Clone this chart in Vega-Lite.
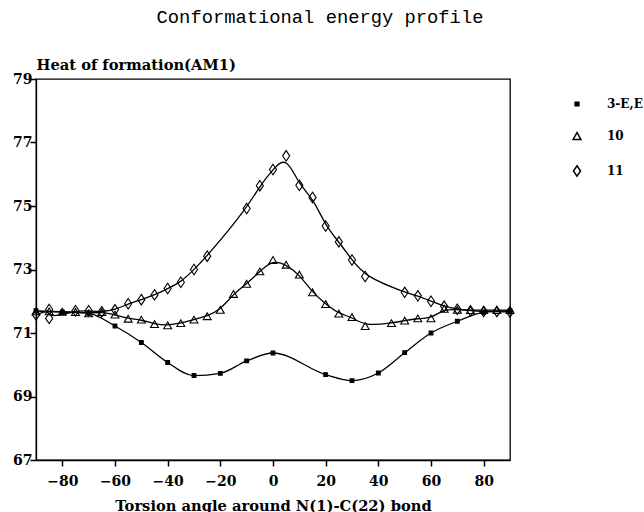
{
  "$schema": "https://vega.github.io/schema/vega-lite/v6.json",
  "width": 474,
  "height": 381,
  "autosize": "none",
  "padding": {"left": 36, "top": 79, "right": 134, "bottom": 52},
  "background": "white",
  "title": {
    "text": "Conformational energy profile",
    "font": "Liberation Mono",
    "fontSize": 18.8,
    "fontWeight": "normal",
    "color": "black",
    "anchor": "middle",
    "dx": 47,
    "offset": 30
  },
  "config": {
    "view": {"stroke": "black", "strokeWidth": 1.3},
    "axis": {
      "grid": false,
      "labelFont": "DejaVu Serif",
      "labelFontWeight": "bold",
      "labelFontSize": 14,
      "labelColor": "black",
      "titleFont": "DejaVu Serif",
      "titleFontWeight": "bold",
      "titleFontSize": 14.7,
      "titleColor": "black"
    },
    "legend": {
      "labelFont": "DejaVu Serif",
      "labelFontSize": 12,
      "labelFontWeight": "bold",
      "labelColor": "black"
    }
  },
  "data": {
    "values": [
      {"series": "3-E,E", "angle": -90, "energy": 71.70},
      {"series": "3-E,E", "angle": -80, "energy": 71.66},
      {"series": "3-E,E", "angle": -70, "energy": 71.62},
      {"series": "3-E,E", "angle": -60, "energy": 71.22},
      {"series": "3-E,E", "angle": -50, "energy": 70.70},
      {"series": "3-E,E", "angle": -40, "energy": 70.07},
      {"series": "3-E,E", "angle": -30, "energy": 69.66},
      {"series": "3-E,E", "angle": -20, "energy": 69.73},
      {"series": "3-E,E", "angle": -10, "energy": 70.12},
      {"series": "3-E,E", "angle": 0, "energy": 70.37},
      {"series": "3-E,E", "angle": 20, "energy": 69.69},
      {"series": "3-E,E", "angle": 30, "energy": 69.50},
      {"series": "3-E,E", "angle": 40, "energy": 69.74},
      {"series": "3-E,E", "angle": 50, "energy": 70.38},
      {"series": "3-E,E", "angle": 60, "energy": 71.00},
      {"series": "3-E,E", "angle": 70, "energy": 71.37},
      {"series": "3-E,E", "angle": 80, "energy": 71.65},
      {"series": "3-E,E", "angle": 90, "energy": 71.70},

      {"series": "10", "angle": -90, "energy": 71.68},
      {"series": "10", "angle": -85, "energy": 71.68},
      {"series": "10", "angle": -80, "energy": 71.67},
      {"series": "10", "angle": -75, "energy": 71.66},
      {"series": "10", "angle": -70, "energy": 71.62},
      {"series": "10", "angle": -65, "energy": 71.66},
      {"series": "10", "angle": -60, "energy": 71.58},
      {"series": "10", "angle": -55, "energy": 71.45},
      {"series": "10", "angle": -50, "energy": 71.42},
      {"series": "10", "angle": -45, "energy": 71.28},
      {"series": "10", "angle": -40, "energy": 71.24},
      {"series": "10", "angle": -35, "energy": 71.31},
      {"series": "10", "angle": -30, "energy": 71.42},
      {"series": "10", "angle": -25, "energy": 71.53},
      {"series": "10", "angle": -20, "energy": 71.73},
      {"series": "10", "angle": -15, "energy": 72.23},
      {"series": "10", "angle": -10, "energy": 72.55},
      {"series": "10", "angle": -5, "energy": 72.94},
      {"series": "10", "angle": 0, "energy": 73.30},
      {"series": "10", "angle": 5, "energy": 73.15},
      {"series": "10", "angle": 10, "energy": 72.84},
      {"series": "10", "angle": 15, "energy": 72.28},
      {"series": "10", "angle": 20, "energy": 71.91},
      {"series": "10", "angle": 25, "energy": 71.61},
      {"series": "10", "angle": 30, "energy": 71.50},
      {"series": "10", "angle": 35, "energy": 71.22},
      {"series": "10", "angle": 45, "energy": 71.31},
      {"series": "10", "angle": 50, "energy": 71.39},
      {"series": "10", "angle": 55, "energy": 71.46},
      {"series": "10", "angle": 60, "energy": 71.46},
      {"series": "10", "angle": 65, "energy": 71.76},
      {"series": "10", "angle": 70, "energy": 71.73},
      {"series": "10", "angle": 75, "energy": 71.72},
      {"series": "10", "angle": 80, "energy": 71.72},
      {"series": "10", "angle": 85, "energy": 71.72},
      {"series": "10", "angle": 90, "energy": 71.72},

      {"series": "11", "angle": -90, "energy": 71.57},
      {"series": "11", "angle": -85, "energy": 71.74},
      {"series": "11", "angle": -85, "energy": 71.46},
      {"series": "11", "angle": -75, "energy": 71.70},
      {"series": "11", "angle": -70, "energy": 71.70},
      {"series": "11", "angle": -65, "energy": 71.67},
      {"series": "11", "angle": -60, "energy": 71.73},
      {"series": "11", "angle": -55, "energy": 71.92},
      {"series": "11", "angle": -50, "energy": 72.05},
      {"series": "11", "angle": -45, "energy": 72.20},
      {"series": "11", "angle": -40, "energy": 72.40},
      {"series": "11", "angle": -35, "energy": 72.60},
      {"series": "11", "angle": -30, "energy": 73.00},
      {"series": "11", "angle": -25, "energy": 73.42},
      {"series": "11", "angle": -10, "energy": 74.92},
      {"series": "11", "angle": -5, "energy": 75.64},
      {"series": "11", "angle": 0, "energy": 76.15},
      {"series": "11", "angle": 5, "energy": 76.58},
      {"series": "11", "angle": 10, "energy": 75.65},
      {"series": "11", "angle": 15, "energy": 75.27},
      {"series": "11", "angle": 20, "energy": 74.37},
      {"series": "11", "angle": 25, "energy": 73.87},
      {"series": "11", "angle": 30, "energy": 73.30},
      {"series": "11", "angle": 35, "energy": 72.78},
      {"series": "11", "angle": 50, "energy": 72.28},
      {"series": "11", "angle": 55, "energy": 72.17},
      {"series": "11", "angle": 60, "energy": 72.00},
      {"series": "11", "angle": 65, "energy": 71.84},
      {"series": "11", "angle": 70, "energy": 71.75},
      {"series": "11", "angle": 75, "energy": 71.70},
      {"series": "11", "angle": 80, "energy": 71.68},
      {"series": "11", "angle": 85, "energy": 71.68},
      {"series": "11", "angle": 90, "energy": 71.66}
    ]
  },
  "encoding": {
    "x": {
      "field": "angle",
      "type": "quantitative",
      "scale": {"domain": [-90, 90], "nice": false, "zero": false},
      "axis": {
        "values": [-80, -60, -40, -20, 0, 20, 40, 60, 80],
        "title": "Torsion angle around N(1)-C(22) bond",
        "domainColor": "black",
        "domainWidth": 1.3,
        "ticks": true,
        "tickColor": "#000000",
        "tickWidth": 1.5,
        "tickSize": 6,
        "tickOpacity": 1,
        "labelPadding": 8,
        "titleY": 46,
        "titleBaseline": "middle"
      }
    },
    "y": {
      "field": "energy",
      "type": "quantitative",
      "scale": {"domain": [67, 79], "nice": false, "zero": false},
      "axis": {
        "values": [67, 69, 71, 73, 75, 77, 79],
        "title": "Heat of formation(AM1)",
        "domainColor": "black",
        "domainWidth": 1.3,
        "ticks": true,
        "tickColor": "#000000",
        "tickWidth": 1.5,
        "tickSize": 6,
        "tickOpacity": 1,
        "titleAngle": 0,
        "titleAlign": "left",
        "titleBaseline": "middle",
        "titleX": 0,
        "titleY": -14,
        "labelPadding": -2
      }
    }
  },
  "layer": [
    {
      "transform": [{"filter": "datum.series === '3-E,E'"}],
      "mark": {"type": "line", "interpolate": "monotone", "color": "black", "strokeWidth": 1.3},
      "encoding": {}
    },
    {
      "transform": [{"filter": "datum.series !== '3-E,E'"}],
      "mark": {"type": "line", "interpolate": "basis", "color": "black", "strokeWidth": 1.3},
      "encoding": {"detail": {"field": "series", "type": "nominal"}}
    },
    {
      "mark": {"type": "point", "stroke": "black", "strokeWidth": 1.1, "opacity": 1},
      "encoding": {
        "shape": {
          "field": "series",
          "type": "nominal",
          "scale": {
            "domain": ["3-E,E", "10", "11"],
            "range": ["square", "triangle-up", "M0,-1L0.68,0L0,1L-0.68,0Z"]
          },
          "legend": {
            "title": null,
            "orient": "none",
            "legendX": 535,
            "legendY": 19,
            "labelOffset": 24,
            "rowPadding": 19,
            "symbolStrokeColor": "black"
          }
        },
        "fill": {
          "field": "series",
          "type": "nominal",
          "scale": {"domain": ["3-E,E", "10", "11"], "range": ["black", "transparent", "transparent"]}
        },
        "size": {
          "field": "series",
          "type": "nominal",
          "scale": {"domain": ["3-E,E", "10", "11"], "range": [14, 110, 190]}
        }
      }
    }
  ]
}
